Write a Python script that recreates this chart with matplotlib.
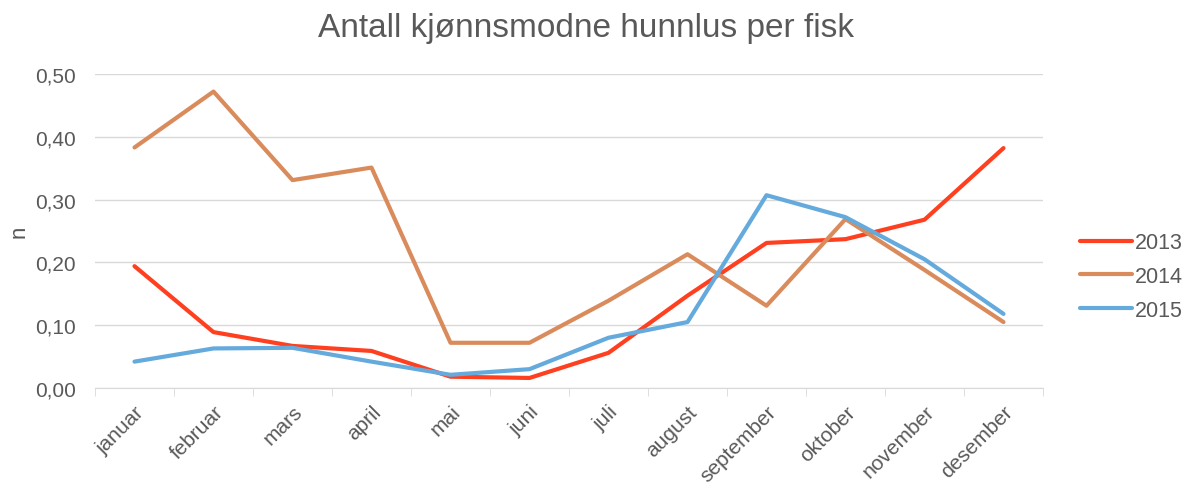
import numpy as np
import matplotlib.pyplot as plt

plt.rcParams['font.family'] = ['Liberation Sans', 'DejaVu Sans']

months = ['januar', 'februar', 'mars', 'april', 'mai', 'juni', 'juli',
          'august', 'september', 'oktober', 'november', 'desember']
y2013 = [0.194, 0.089, 0.067, 0.059, 0.018, 0.016, 0.056, 0.147, 0.231, 0.237, 0.268, 0.382]
y2014 = [0.383, 0.472, 0.331, 0.351, 0.072, 0.072, 0.139, 0.213, 0.131, 0.269, 0.188, 0.105]
y2015 = [0.042, 0.063, 0.064, 0.042, 0.021, 0.030, 0.080, 0.105, 0.307, 0.272, 0.205, 0.118]

grey = '#595959'
fig = plt.figure(figsize=(11.84, 4.85), dpi=100)
ax = fig.add_axes([95/1184, 1 - 389/485, (1043-95)/1184, (389-75)/485])

x = np.arange(len(months))
ax.plot(x, y2013, color='#FF4020', lw=3, label='2013', solid_capstyle='round')
ax.plot(x, y2014, color='#DA8B5C', lw=3, label='2014', solid_capstyle='round')
ax.plot(x, y2015, color='#64AADC', lw=3, label='2015', solid_capstyle='round')

ax.set_xlim(-0.5, 11.5)
ax.set_ylim(0, 0.5)
ax.set_yticks(np.arange(0, 0.51, 0.1))
ax.set_yticklabels([f'{v:.2f}'.replace('.', ',') for v in np.arange(0, 0.51, 0.1)])
ax.set_xticks(x)
ax.set_xticklabels(months, rotation=45, ha='right', rotation_mode='anchor')
ax.set_xticks(np.arange(-0.5, 12), minor=True)
ax.tick_params(axis='x', which='major', length=0, pad=10, labelsize=15, labelcolor=grey)
ax.tick_params(axis='x', which='minor', length=6, color='#d9d9d9')
ax.tick_params(axis='y', length=0, pad=14, labelsize=15, labelcolor=grey)
ax.grid(axis='y', color='#d9d9d9', lw=1)
ax.set_axisbelow(True)
for s in ['top', 'right', 'left']:
    ax.spines[s].set_visible(False)
ax.spines['bottom'].set_color('#d9d9d9')

ax.set_ylabel('n', fontsize=16, color=grey, labelpad=4)
fig.text(586/1184, 1 - 28/485, 'Antall kjønnsmodne hunnlus per fisk',
         ha='center', va='center', fontsize=24, color=grey)

leg = ax.legend(loc='center left', bbox_to_anchor=(1.03, 0.355), frameon=False,
                fontsize=15.5, handlelength=2.4, handletextpad=0.15, labelspacing=0.6,
                borderaxespad=0)
for t in leg.get_texts():
    t.set_color(grey)

fig.savefig('out.png', dpi=100)
